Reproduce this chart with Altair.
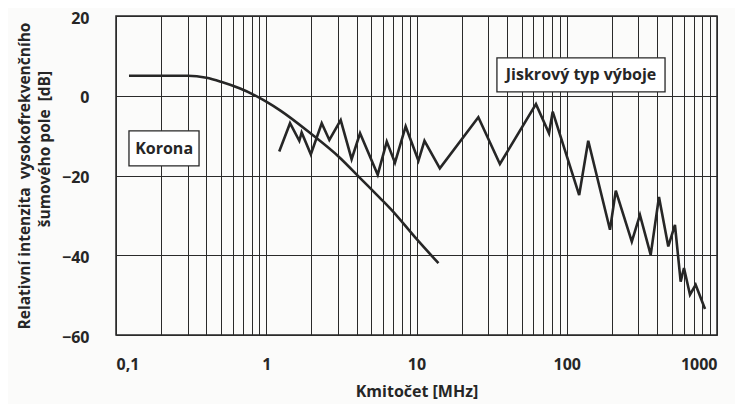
import altair as alt
import pandas as pd

# ---- data ----
korona_f = [0.122, 0.2, 0.3, 0.4, 0.5, 0.67, 0.82, 1.0, 1.25, 1.95, 3.1, 4.2, 5.7, 6.7, 10.0, 14.0]
korona_db = [5, 5, 5, 4.5, 3.5, 1.8, 0.3, -1.5, -3.8, -9.3, -15.6, -20.6, -25.6, -28.3, -35.9, -42.0]

spark_f = [1.22, 1.44, 1.66, 1.72, 1.98, 2.34, 2.63, 3.13, 3.70, 4.21,
           5.52, 6.34, 7.19, 8.47, 10.3, 11.3, 14.3, 25.8, 35.9, 62.4,
           76.2, 80.6, 121, 139, 194, 212, 271, 307, 362, 411,
           474, 525, 573, 603, 661, 721, 832]
spark_db = [-14.0, -6.9, -11.3, -9.2, -14.7, -6.9, -11.1, -6.1, -15.9, -9.4,
            -19.8, -11.5, -16.8, -7.7, -16.3, -11.3, -18.2, -5.4, -17.1, -2.1,
            -9.4, -4.0, -24.9, -11.3, -33.6, -23.8, -36.6, -29.9, -39.9, -25.4,
            -37.8, -32.4, -46.6, -43.2, -49.9, -47.4, -53.5]

x_decades = [0.1, 1, 10, 100, 1000]
x_tick_labels = ["0,1", "1", "10", "100", "1000"]
y_ticks = [-60, -40, -20, 0, 20]

label_texts = ["Korona", "Jiskrový typ výboje"]
label_x = [0.209, 124.5]
label_y = [-13.3, 5.2]
box_x = [0.122, 34.3]
box_x2 = [0.357, 451]
box_y = [-8.8, 9.5]
box_y2 = [-17.6, 0.95]

y_title_1 = "Relativní intenzita \u00a0vysokofrekvenčního"
y_title_2 = "šumového pole \u00a0[dB]"
x_title = "Kmitočet [MHz]"

# ---- build tables ----
korona = pd.DataFrame({"f": korona_f, "db": korona_db})
spark = pd.DataFrame({"f": spark_f, "db": spark_db})
labels = pd.DataFrame({"f": label_x, "db": label_y, "t": label_texts})
boxes = pd.DataFrame({"f": box_x, "f2": box_x2, "db": box_y, "db2": box_y2})

grid_vals = []
for d in x_decades[:-1]:
    for m in range(1, 10):
        grid_vals.append(d if m == 1 else round(m * d, 6))
grid_vals.append(x_decades[-1])

expr = "''"
for v, t in reversed(list(zip(x_decades, x_tick_labels))):
    expr = f"datum.value == {v} ? '{t}' : ({expr})"

FONT = "Open Sans"
INK = "#262626"

xscale = alt.Scale(type="log", domain=[0.1, 1000], nice=False)
yscale = alt.Scale(domain=[-60, 20], nice=False)

xaxis = alt.Axis(values=grid_vals, labelExpr=expr, labelOverlap=False, grid=True,
                 ticks=False, domain=False, labelPadding=21, labelFontSize=16,
                 labelFontWeight="bold", labelColor=INK, title=x_title,
                 titleFontSize=16, titleFontWeight="bold", titleColor=INK, titlePadding=11,
                 labelFont=FONT, titleFont=FONT)
yaxis = alt.Axis(values=y_ticks, grid=True, ticks=False, domain=False, labelPadding=27,
                 labelOffset=2, labelFontSize=16, labelFontWeight="bold", labelColor=INK,
                 title=None, labelFont=FONT)

base_x = alt.X("f:Q", scale=xscale, axis=xaxis)
base_y = alt.Y("db:Q", scale=yscale, axis=yaxis)

kor_line = alt.Chart(korona).mark_line(color=INK, strokeWidth=2.6, interpolate="monotone").encode(
    x=base_x, y=base_y)
spark_line = alt.Chart(spark).mark_line(color=INK, strokeWidth=2.6, strokeJoin="miter").encode(
    x=alt.X("f:Q", scale=xscale), y=alt.Y("db:Q", scale=yscale))

box_layer = alt.Chart(boxes).mark_rect(fill="white", stroke=INK, strokeWidth=1.3).encode(
    x=alt.X("f:Q", scale=xscale), x2="f2:Q",
    y=alt.Y("db:Q", scale=yscale), y2="db2:Q")
text_layer = alt.Chart(labels).mark_text(font=FONT, fontSize=16, fontWeight="bold", color=INK).encode(
    x=alt.X("f:Q", scale=xscale), y=alt.Y("db:Q", scale=yscale), text="t:N")

yt1 = alt.Chart(pd.DataFrame({"t": [y_title_1]})).mark_text(
    font=FONT, fontSize=15.5, fontWeight="bold", color=INK, angle=270, baseline="middle", align="center"
).encode(x=alt.value(-91), y=alt.value(160), text="t:N")
yt2 = alt.Chart(pd.DataFrame({"t": [y_title_2]})).mark_text(
    font=FONT, fontSize=15.5, fontWeight="bold", color=INK, angle=270, baseline="middle", align="center"
).encode(x=alt.value(-71), y=alt.value(133), text="t:N")

chart = alt.layer(kor_line, spark_line, box_layer, text_layer, yt1, yt2).properties(
    width=601, height=319,
    autosize=alt.AutoSizeParams(type="none"),
    padding={"left": 108, "top": 8, "right": 18, "bottom": 69},
    background="#fbfbfa",
).configure_view(stroke=INK, strokeWidth=1.5).configure_axis(
    gridColor="#2a2a2a", gridWidth=1, gridOpacity=1
)

chart.save("out.html", embed_options={"renderer": "svg", "actions": False})
